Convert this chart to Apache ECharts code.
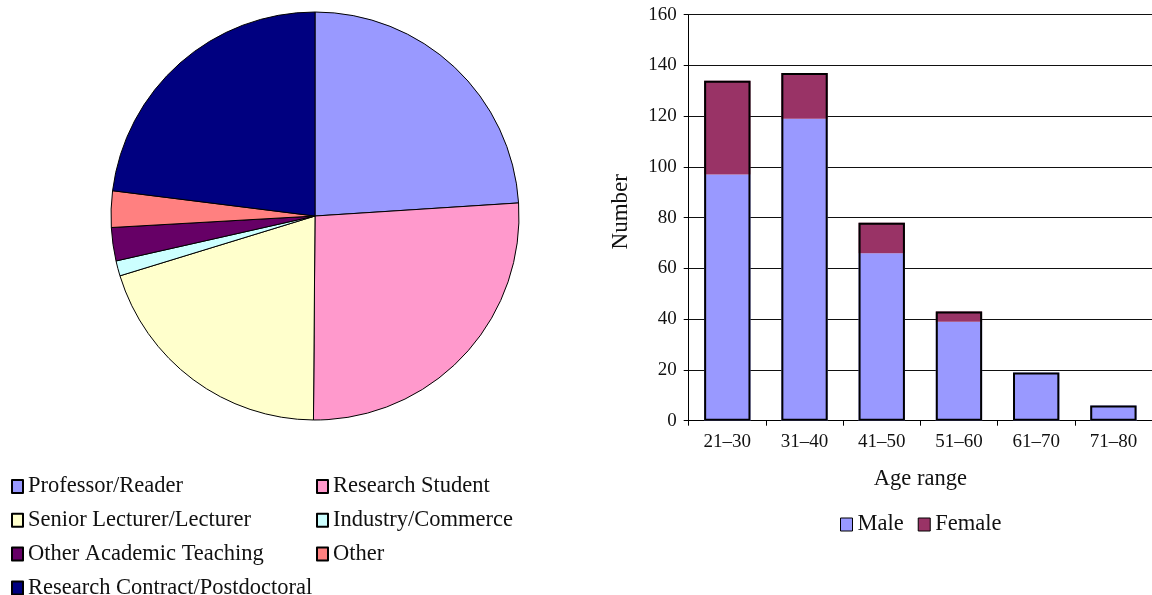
<!DOCTYPE html>
<html>
<head>
<meta charset="utf-8">
<script src="https://cdn.jsdelivr.net/npm/echarts@6/dist/echarts.min.js"></script>
<style>
  html, body { margin: 0; padding: 0; background: #fff; }
  #chart { width: 1152px; height: 595px; }
</style>
</head>
<body>
<div id="chart"></div>
<script>
// Respondents by position (pie)
const positions = [
  'Professor/Reader',
  'Research Student',
  'Senior Lecturer/Lecturer',
  'Industry/Commerce',
  'Other Academic Teaching',
  'Other',
  'Research Contract/Postdoctoral'
];
const positionCounts = [100, 109, 84, 5, 11, 12, 96];
const positionColors = ['#9999FF', '#FF99CC', '#FFFFCC', '#CCFFFF', '#660066', '#FF8080', '#000080'];

// Respondents by age range and sex (stacked bars)
const ageRanges = ['21\u201330', '31\u201340', '41\u201350', '51\u201360', '61\u201370', '71\u201380'];
const male = [97, 119, 66, 39, 19, 6];
const female = [37, 18, 12, 4, null, null];
const yTicks = { min: 0, max: 160, interval: 20 };

const total = male.map((m, i) => m + (female[i] || 0));

const FONT = 'Liberation Serif';
const legendText = { fontFamily: FONT, fontSize: 22.5, color: '#111', lineHeight: 22 };

// Pie key: two columns, items flow left-to-right then down
const keyColumns = [11, 316];
const keyTop = 475;
const keyRowStep = 33.8;
const pieLegends = positions.map((name, i) => ({
  left: keyColumns[i % 2],
  top: keyTop + Math.floor(i / 2) * keyRowStep,
  padding: 0,
  itemWidth: 11, itemHeight: 13, icon: 'rect',
  textStyle: legendText,
  data: [name],
  selectedMode: false
}));

const chart = echarts.init(document.getElementById('chart'), null, { renderer: 'canvas' });

chart.setOption({
  animation: false,
  backgroundColor: '#fff',
  grid: { left: 688.7, top: 14.7, width: 470, height: 406, containLabel: false },
  legend: pieLegends.concat([
    {
      left: 840, top: 513, orient: 'horizontal', itemGap: 14, padding: 0,
      itemWidth: 12, itemHeight: 13, icon: 'rect',
      itemStyle: { borderColor: '#000', borderWidth: 1 },
      textStyle: legendText,
      data: ['Male', 'Female'],
      selectedMode: false
    }
  ]),
  xAxis: {
    type: 'category',
    data: ageRanges,
    name: 'Age range',
    nameLocation: 'middle',
    nameGap: 47,
    nameTextStyle: { fontFamily: FONT, fontSize: 22.5, color: '#111' },
    axisLine: { show: true, lineStyle: { color: '#000', width: 1 } },
    axisTick: { show: true, length: 5, lineStyle: { color: '#000' } },
    axisLabel: { fontFamily: FONT, fontSize: 19, color: '#111', margin: 12 },
    splitLine: { show: false }
  },
  yAxis: {
    type: 'value',
    min: yTicks.min, max: yTicks.max, interval: yTicks.interval,
    name: 'Number',
    nameLocation: 'middle',
    nameGap: 56,
    nameRotate: 90,
    nameTextStyle: { fontFamily: FONT, fontSize: 23, color: '#111', padding: [0, 0, 0, 12] },
    axisLine: { show: true, lineStyle: { color: '#000', width: 1 } },
    axisTick: { show: true, length: 5, lineStyle: { color: '#000' } },
    axisLabel: { fontFamily: FONT, fontSize: 19, color: '#111', margin: 12 },
    splitLine: { show: true, lineStyle: { color: '#111', width: 1 } }
  },
  series: [
    {
      type: 'pie',
      center: [315, 216],
      radius: [0, 204],
      startAngle: 90,
      clockwise: true,
      avoidLabelOverlap: false,
      label: { show: false },
      labelLine: { show: false },
      emphasis: { disabled: true },
      itemStyle: { borderColor: '#000', borderWidth: 1 },
      data: positions.map((name, i) => ({
        name, value: positionCounts[i], itemStyle: { color: positionColors[i] }
      }))
    },
    {
      name: 'Male',
      type: 'bar',
      stack: 'age',
      data: male,
      barCategoryGap: '40%',
      barGap: '-100%',
      itemStyle: { color: '#9999FF' },
      emphasis: { disabled: true }
    },
    {
      name: 'Female',
      type: 'bar',
      stack: 'age',
      data: female,
      barCategoryGap: '40%',
      barGap: '-100%',
      itemStyle: { color: '#993366' },
      emphasis: { disabled: true }
    },
    {
      // outline drawn around each full column
      name: 'outline',
      type: 'bar',
      data: total,
      barCategoryGap: '40%',
      barGap: '-100%',
      z: 5,
      silent: true,
      itemStyle: { color: 'rgba(0,0,0,0)', borderColor: '#000', borderWidth: 2 },
      emphasis: { disabled: true }
    }
  ]
});
</script>
</body>
</html>
